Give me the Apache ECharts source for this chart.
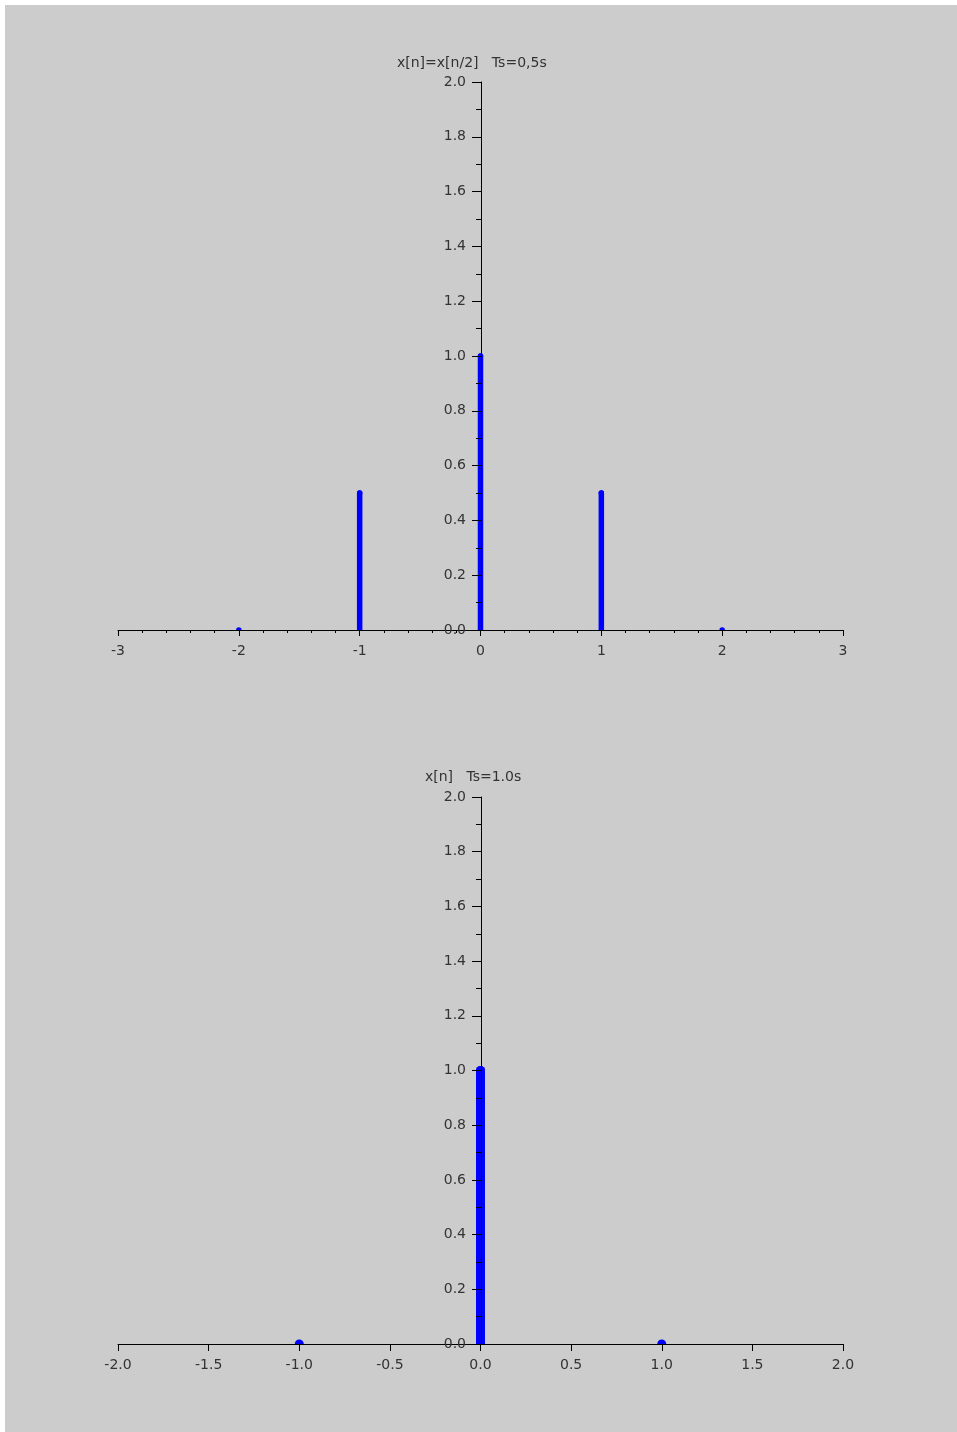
<!DOCTYPE html>
<html>
<head>
<meta charset="utf-8">
<script src="https://cdn.jsdelivr.net/npm/echarts@6/dist/echarts.min.js"></script>
<style>
html,body{margin:0;padding:0;background:#ffffff;}
#bg{position:absolute;left:5px;top:5px;width:952px;height:1427px;background:#cccccc;}
#chart{position:absolute;left:0;top:0;width:957px;height:1432px;}
</style>
</head>
<body>
<div id="bg"></div>
<div id="chart"></div>
<script>
// ---- data ----
var titleTop = "x[n]=x[n/2]   Ts=0,5s";
var titleBottom = "x[n]   Ts=1.0s";
var topN = [-2, -1, 0, 1, 2];
var topValues = [0, 0.5, 1.0, 0.5, 0];
var bottomN = [-1, 0, 1];
var bottomValues = [0, 1.0, 0];

var FONT = "DejaVu Sans";
var AX = "#000000";
var TXT = "#333333";
var FS = 14;

function pairs(xs, ys) { return xs.map(function (x, i) { return [x, ys[i]]; }); }

function stemRenderer(width) {
  return function (params, api) {
    var x = api.value(0), y = api.value(1);
    var p0 = api.coord([x, 0]);
    var p1 = api.coord([x, y]);
    var children = [];
    if (y !== 0) {
      children.push({
        type: 'line',
        shape: { x1: p0[0], y1: p0[1], x2: p1[0], y2: p1[1] },
        style: { stroke: '#0000ff', lineWidth: width, lineCap: 'round' }
      });
    }
    children.push({
      type: 'circle',
      shape: { cx: p1[0], cy: p1[1], r: width / 2 },
      style: { fill: '#0000ff' }
    });
    return { type: 'group', children: children };
  };
}

function yAxisCfg(gi) {
  return {
    gridIndex: gi, type: 'value', min: 0, max: 2, interval: 0.2, z: 5,
    position: 'left', offset: -363,
    axisLine: { show: true, onZero: false, lineStyle: { color: AX, width: 1 } },
    axisTick: { show: true, length: 9, lineStyle: { color: AX } },
    minorTick: { show: true, splitNumber: 2, length: 5, lineStyle: { color: AX } },
    splitLine: { show: false },
    axisLabel: { margin: 15, color: TXT, fontFamily: FONT, fontSize: FS,
      formatter: function (v) { return v.toFixed(1); } }
  };
}

var chart = echarts.init(document.getElementById('chart'));
chart.setOption({
  backgroundColor: 'transparent',
  animation: false,
  title: [
    { text: titleTop, left: 397, top: 56, padding: 0,
      textStyle: { fontFamily: FONT, fontSize: FS, fontWeight: 'normal', color: TXT } },
    { text: titleBottom, left: 425, top: 770, padding: 0,
      textStyle: { fontFamily: FONT, fontSize: FS, fontWeight: 'normal', color: TXT } }
  ],
  grid: [
    { left: 118, width: 725, top: 82, height: 548 },
    { left: 118, width: 725, top: 797, height: 547 }
  ],
  xAxis: [
    { gridIndex: 0, type: 'value', min: -3, max: 3, interval: 1, z: 5,
      axisLine: { show: true, onZero: false, lineStyle: { color: AX, width: 1 } },
      axisTick: { show: true, length: 6, lineStyle: { color: AX } },
      minorTick: { show: true, splitNumber: 5, length: 3, lineStyle: { color: AX } },
      splitLine: { show: false },
      axisLabel: { margin: 14, color: TXT, fontFamily: FONT, fontSize: FS,
        formatter: function (v) { return String(Math.round(v)); } } },
    { gridIndex: 1, type: 'value', min: -2, max: 2, interval: 0.5, z: 5,
      axisLine: { show: true, onZero: false, lineStyle: { color: AX, width: 1 } },
      axisTick: { show: true, length: 7, lineStyle: { color: AX } },
      splitLine: { show: false },
      axisLabel: { margin: 14, color: TXT, fontFamily: FONT, fontSize: FS,
        formatter: function (v) { return v.toFixed(1); } } }
  ],
  yAxis: [yAxisCfg(0), yAxisCfg(1)],
  series: [
    { type: 'custom', xAxisIndex: 0, yAxisIndex: 0, z: 2, clip: true,
      renderItem: stemRenderer(5.5), data: pairs(topN, topValues) },
    { type: 'custom', xAxisIndex: 1, yAxisIndex: 1, z: 2, clip: true,
      renderItem: stemRenderer(9), data: pairs(bottomN, bottomValues) }
  ]
});
</script>
</body>
</html>
